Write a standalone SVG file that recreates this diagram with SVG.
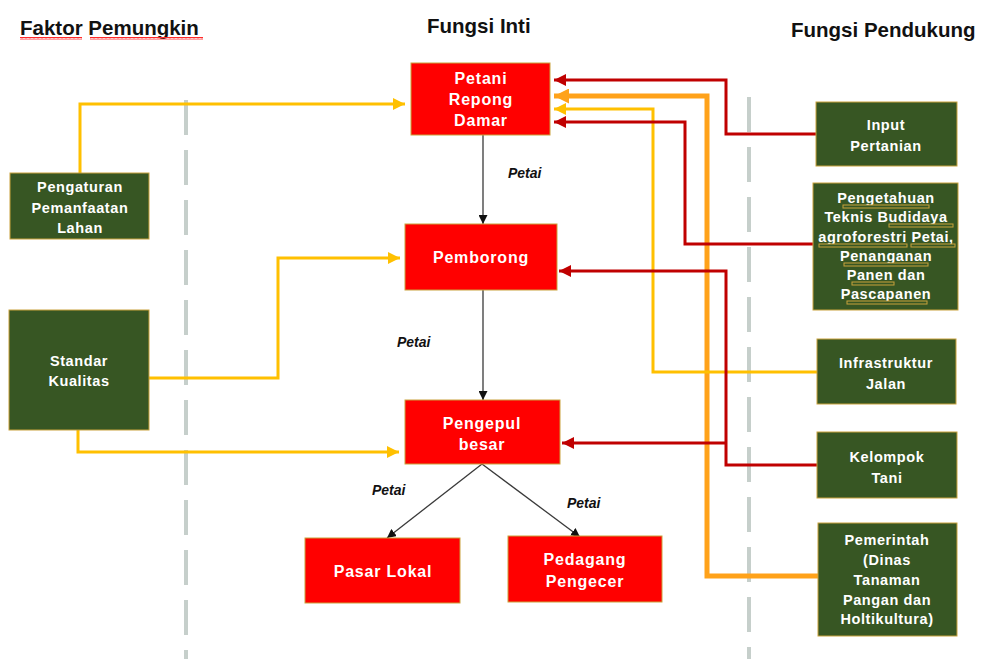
<svg xmlns="http://www.w3.org/2000/svg" width="984" height="659" viewBox="0 0 984 659">
  <defs>
    <style>
      .title { font-family: "Liberation Sans", Arial, sans-serif; font-weight: bold; font-size: 20.5px; fill: #111; }
      .core rect { fill: #ff0000; stroke: #c9a23c; stroke-width: 1; }
      .support rect { fill: #375623; stroke: #c9a23c; stroke-width: 1; }
      .core text { font-family: "Liberation Sans", Arial, sans-serif; font-weight: bold; font-size: 16px; letter-spacing: 0.8px; fill: #fff; text-anchor: middle; }
      .support text { font-family: "Liberation Sans", Arial, sans-serif; font-weight: bold; font-size: 14.5px; letter-spacing: 0.6px; fill: #fff; text-anchor: middle; }
      .flow-label { font-family: "Liberation Sans", Arial, sans-serif; font-weight: bold; font-style: italic; font-size: 14px; fill: #111; }
      .divider { stroke: #c6cfcb; stroke-width: 4; stroke-dasharray: 35 15; fill: none; }
      .yellow { stroke: #ffc000; stroke-width: 3; fill: none; marker-end: url(#arrowYellow); }
      .red { stroke: #c00000; stroke-width: 3; fill: none; }
      .red-arrow { marker-end: url(#arrowRed); }
      .orange { stroke: #ffa21a; stroke-width: 5; fill: none; marker-end: url(#arrowOrange); }
      .product { stroke: #3a3a3a; stroke-width: 1.3; fill: none; marker-end: url(#arrowBlack); }
      .squiggle { fill: url(#wavy); }
    </style>
    <marker id="arrowYellow" viewBox="0 0 10 10" refX="10" refY="5" markerWidth="12" markerHeight="12" markerUnits="userSpaceOnUse" orient="auto">
      <path d="M0,0 L10,5 L0,10 z" fill="#ffc000"/>
    </marker>
    <marker id="arrowRed" viewBox="0 0 10 10" refX="10" refY="5" markerWidth="12" markerHeight="12" markerUnits="userSpaceOnUse" orient="auto">
      <path d="M0,0 L10,5 L0,10 z" fill="#c00000"/>
    </marker>
    <marker id="arrowOrange" viewBox="0 0 10 10" refX="10" refY="5" markerWidth="15" markerHeight="15" markerUnits="userSpaceOnUse" orient="auto">
      <path d="M0,0 L10,5 L0,10 z" fill="#ffa21a"/>
    </marker>
    <marker id="arrowBlack" viewBox="0 0 10 10" refX="10" refY="5" markerWidth="9" markerHeight="9" markerUnits="userSpaceOnUse" orient="auto">
      <path d="M0,0 L10,5 L0,10 z" fill="#111"/>
    </marker>
    <!-- spell-check style wavy underline -->
    <pattern id="wavy" width="4" height="3" patternUnits="userSpaceOnUse">
      <path d="M0,2.5 L1,0.5 L2,2.5 L3,0.5 L4,2.5" stroke="#ff2a2a" stroke-width="1" fill="none"/>
    </pattern>
  </defs>

  <rect width="984" height="659" fill="#ffffff"/>

  <!-- column headings -->
  <text class="title" x="20" y="35">Faktor Pemungkin</text>
  <rect class="squiggle" x="20" y="37" width="62" height="3"/>
  <rect class="squiggle" x="90" y="37" width="113" height="3"/>
  <text class="title" x="427" y="33">Fungsi Inti</text>
  <text class="title" x="791" y="37">Fungsi Pendukung</text>

  <!-- column dividers -->
  <line class="divider" x1="186" y1="100" x2="186" y2="659"/>
  <line class="divider" x1="749" y1="97" x2="749" y2="659"/>

  <!-- connectors -->
  <g id="connectors">
    <!-- enabling factors -->
    <path class="yellow" d="M80,173 V104 H405"/>
    <path class="yellow" d="M149,378 H278 V258 H400"/>
    <path class="yellow" d="M78,430 V452 H399"/>
    <!-- supporting functions -->
    <path class="red red-arrow" d="M816,134 H726 V80 H554"/>
    <path class="orange" d="M818,576 H707 V96 H554"/>
    <path class="yellow" d="M817,372 H653 V109 H554"/>
    <path class="red red-arrow" d="M813,244 H685 V122 H554"/>
    <path class="red red-arrow" d="M817,465 H726 V271 H559"/>
    <path class="red red-arrow" d="M726,443 H562"/>
    <!-- product flow -->
    <path class="product" d="M483,135 V224"/>
    <path class="product" d="M483,290 V400"/>
    <path class="product" d="M482,464 L387,538"/>
    <path class="product" d="M482,464 L580,537"/>
  </g>

  <!-- product labels -->
  <text class="flow-label" x="508" y="178">Petai</text>
  <text class="flow-label" x="397" y="347">Petai</text>
  <text class="flow-label" x="372" y="495">Petai</text>
  <text class="flow-label" x="567" y="508">Petai</text>

  <!-- core functions -->
  <g id="petani" class="core">
    <rect x="411" y="63" width="139" height="72"/>
    <text x="481" y="84">Petani</text>
    <text x="481" y="105">Repong</text>
    <text x="481" y="126">Damar</text>
  </g>
  <g id="pemborong" class="core">
    <rect x="405" y="224" width="152" height="66"/>
    <text x="481" y="263">Pemborong</text>
  </g>
  <g id="pengepul" class="core">
    <rect x="405" y="400" width="155" height="64"/>
    <text x="482" y="429">Pengepul</text>
    <text x="482" y="450">besar</text>
  </g>
  <g id="pasar-lokal" class="core">
    <rect x="305" y="538" width="155" height="65"/>
    <text x="383" y="577">Pasar Lokal</text>
  </g>
  <g id="pedagang" class="core">
    <rect x="508" y="536" width="154" height="66"/>
    <text x="585" y="565">Pedagang</text>
    <text x="585" y="587">Pengecer</text>
  </g>

  <!-- enabling factors -->
  <g id="pengaturan" class="support">
    <rect x="10" y="173" width="139" height="66"/>
    <text x="80" y="192">Pengaturan</text>
    <text x="80" y="213">Pemanfaatan</text>
    <text x="80" y="233">Lahan</text>
  </g>
  <g id="standar" class="support">
    <rect x="9" y="310" width="140" height="120"/>
    <text x="79" y="366">Standar</text>
    <text x="79" y="386">Kualitas</text>
  </g>

  <!-- supporting functions -->
  <g id="input" class="support">
    <rect x="816" y="102" width="141" height="64"/>
    <text x="886" y="130">Input</text>
    <text x="886" y="151">Pertanian</text>
  </g>
  <g id="pengetahuan" class="support">
    <rect x="813" y="183" width="145" height="127"/>
    <text x="886" y="203">Pengetahuan</text>
    <text x="886" y="222">Teknis Budidaya</text>
    <text x="886" y="242">agroforestri Petai,</text>
    <text x="886" y="261">Penanganan</text>
    <text x="886" y="280">Panen dan</text>
    <text x="886" y="299">Pascapanen</text>
    <rect class="squiggle" x="843" y="205" width="86" height="3"/>
    <rect class="squiggle" x="889" y="224" width="64" height="3"/>
    <rect class="squiggle" x="819" y="244" width="88" height="3"/>
    <rect class="squiggle" x="911" y="244" width="44" height="3"/>
    <rect class="squiggle" x="844" y="263" width="84" height="3"/>
    <rect class="squiggle" x="852" y="282" width="42" height="3"/>
    <rect class="squiggle" x="847" y="301" width="80" height="3"/>
  </g>
  <g id="infrastruktur" class="support">
    <rect x="817" y="339" width="139" height="65"/>
    <text x="886" y="368">Infrastruktur</text>
    <text x="886" y="389">Jalan</text>
  </g>
  <g id="kelompok" class="support">
    <rect x="817" y="432" width="140" height="66"/>
    <text x="887" y="462">Kelompok</text>
    <text x="887" y="483">Tani</text>
  </g>
  <g id="pemerintah" class="support">
    <rect x="818" y="523" width="139" height="113"/>
    <text x="887" y="545">Pemerintah</text>
    <text x="887" y="565">(Dinas</text>
    <text x="887" y="585">Tanaman</text>
    <text x="887" y="605">Pangan dan</text>
    <text x="887" y="624">Holtikultura)</text>
  </g>
</svg>
